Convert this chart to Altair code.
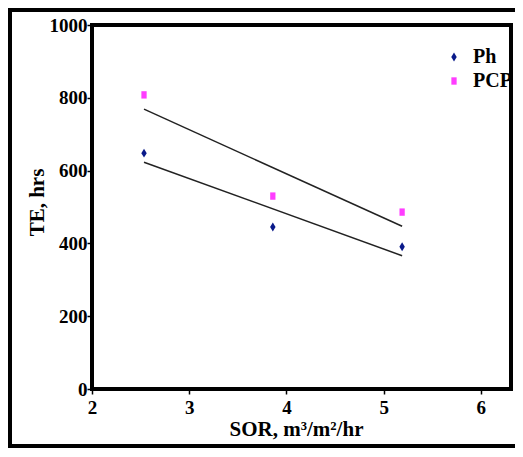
import altair as alt
import pandas as pd

# ---- data ----
sor = [2.535, 3.86, 5.19]
ph_te = [648, 445, 391]
pcp_te = [808, 530, 486]
series_names = ["Ph", "PCP"]
series_colors = ["#0a1a8a", "#ff3dff"]
x_ticks = [2, 3, 4, 5, 6]
y_ticks = [0, 200, 400, 600, 800, 1000]

rows = []
for s, vals in zip(series_names, [ph_te, pcp_te]):
    for x, y in zip(sor, vals):
        rows.append({"SOR": x, "TE": y, "series": s})
df = pd.DataFrame(rows)

diamond = "M0,-1.12L0.68,0L0,1.12L-0.68,0Z"
square = "M-0.66,-0.92H0.66V0.92H-0.66Z"

FONT = "Liberation Serif"
W, H = 419, 364

xs = alt.Scale(domain=[2, 6.31], nice=False, zero=False)
ys = alt.Scale(domain=[0, 1000], nice=False)

x_axis = alt.Axis(
    values=x_ticks, format="d", title="SOR, m³/m²/hr", grid=False, domain=False,
    tickSize=5, tickWidth=1.5, tickColor="black",
    labelFont=FONT, labelFontSize=19, labelFontWeight="bold", labelColor="black",
    labelPadding=4, labelFlush=False, labelOverlap=False,
    titleFont=FONT, titleFontSize=21, titleFontWeight="bold", titleColor="black",
    titleX=204, titleY=40, titleBaseline="middle",
)
y_axis = alt.Axis(
    values=y_ticks, format="d", title="TE, hrs", grid=False, domain=False,
    tickSize=5, tickWidth=1.5, tickColor="black",
    labelFont=FONT, labelFontSize=19, labelFontWeight="bold", labelColor="black",
    labelPadding=0, labelOverlap=False,
    titleFont=FONT, titleFontSize=21, titleFontWeight="bold", titleColor="black",
    titleX=-55, titleY=177, titleBaseline="middle", titleAngle=270,
)

legend = alt.Legend(
    title=None, orient="none", legendX=352, legendY=22, symbolSize=64,
    labelFontSize=20, labelFont=FONT, labelFontWeight="bold", labelColor="black",
    labelOffset=9, rowPadding=4, padding=0, symbolStrokeWidth=0,
)

points = alt.Chart(df).mark_point(filled=True, opacity=1, size=64).encode(
    x=alt.X("SOR:Q", scale=xs, axis=x_axis),
    y=alt.Y("TE:Q", scale=ys, axis=y_axis),
    color=alt.Color("series:N", scale=alt.Scale(domain=series_names, range=series_colors), legend=legend),
    shape=alt.Shape("series:N", scale=alt.Scale(domain=series_names, range=[diamond, square]), legend=legend),
)

lines = alt.Chart(df).transform_regression(
    "SOR", "TE", groupby=["series"]
).mark_line(color="#222222", strokeWidth=1.5).encode(
    x=alt.X("SOR:Q", scale=xs),
    y=alt.Y("TE:Q", scale=ys),
    detail="series:N",
)

frame = alt.Chart(pd.DataFrame({"f": [0]})).mark_rect(
    fillOpacity=0, stroke="black", strokeWidth=4, clip=False
).encode(
    x=alt.value(-82), x2=alt.value(438), y=alt.value(-15), y2=alt.value(421)
)

chart = alt.layer(lines, points, frame).properties(
    width=W, height=H,
    padding={"left": 84, "top": 17, "right": 4, "bottom": 60},
    autosize="none",
    background="white",
).configure_view(stroke="black", strokeWidth=4)

chart.save("out.html", embed_options={"renderer": "svg", "actions": False})
